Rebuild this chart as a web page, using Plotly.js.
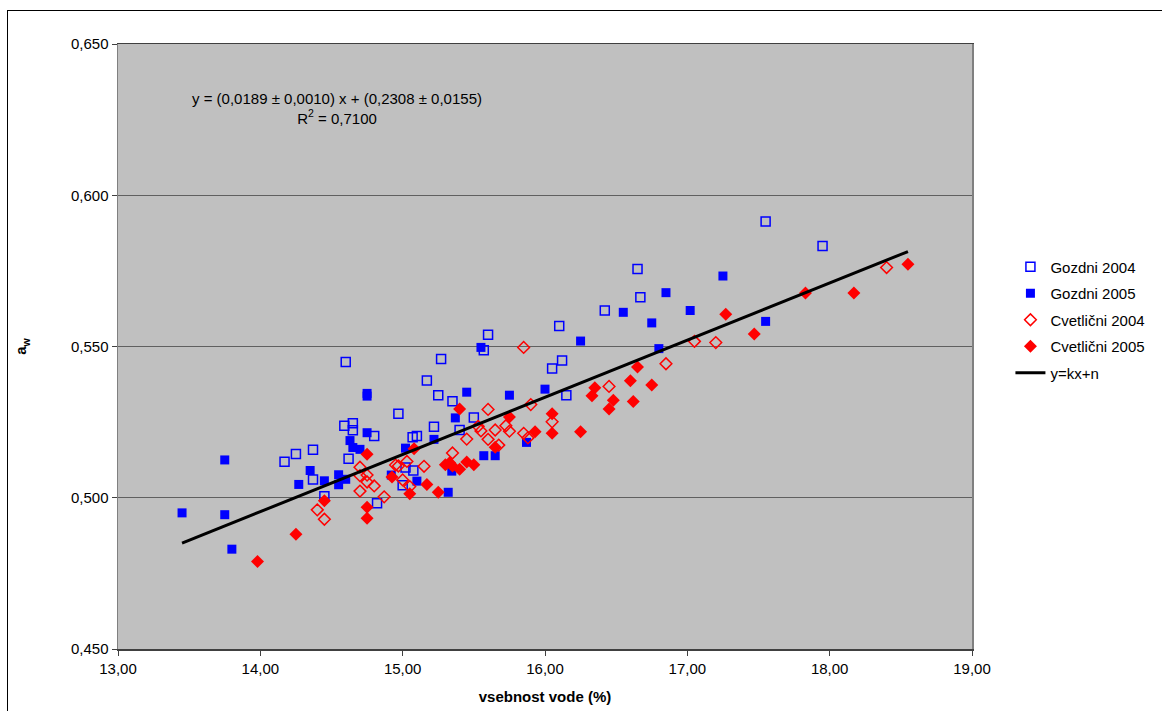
<!DOCTYPE html>
<html>
<head>
<meta charset="utf-8">
<script src="https://cdn.plot.ly/plotly-3.0.1.min.js"></script>
<style>
  html, body { margin: 0; padding: 0; background: #fff; overflow: hidden; }
  #chart { width: 1162px; height: 711px; position: absolute; left: 0; top: 0; }
  #frame { position: absolute; left: 7px; top: 10px; width: 1300px; height: 900px;
           border-left: 1px solid #000; border-top: 1px solid #000; pointer-events: none; }
</style>
</head>
<body>
<div id="chart"></div>
<div id="frame"></div>
<script>
// Gozdni 2004 (open squares)
const gozdni2004X = [14.17,14.25,14.37,14.37,14.45,14.60,14.59,14.65,14.65,14.62,14.80,14.82,14.97,15.00,15.02,15.07,15.10,15.075,15.17,15.22,15.25,15.27,15.35,15.40,15.50,15.57,15.60,16.05,16.10,16.12,16.15,16.42,16.65,16.67,17.55,17.95];
const gozdni2004Y = [0.5119,0.5145,0.5159,0.5060,0.5005,0.5449,0.5238,0.5246,0.5223,0.5129,0.5204,0.4982,0.5278,0.5041,0.5100,0.5200,0.5204,0.5090,0.5388,0.5235,0.5339,0.5459,0.5319,0.5224,0.5265,0.5488,0.5539,0.5427,0.5568,0.5454,0.5339,0.5619,0.5756,0.5663,0.5913,0.5832];

// Gozdni 2005 (filled squares)
const gozdni2005X = [13.45,13.75,13.75,13.80,14.27,14.35,14.45,14.55,14.55,14.60,14.63,14.65,14.70,14.75,14.75,14.75,14.92,15.02,15.10,15.22,15.32,15.345,15.37,15.45,15.55,15.57,15.65,15.75,15.87,16.00,16.25,16.55,16.75,16.80,16.85,17.02,17.25,17.55];
const gozdni2005Y = [0.4950,0.5125,0.4944,0.4830,0.5044,0.5090,0.5056,0.5076,0.5043,0.5061,0.5189,0.5166,0.5160,0.5345,0.5336,0.5215,0.5075,0.5164,0.5055,0.5193,0.5018,0.5088,0.5264,0.5349,0.5497,0.5139,0.5139,0.5339,0.5183,0.5359,0.5518,0.5613,0.5578,0.5493,0.5678,0.5619,0.5733,0.5583];

// Cvetlični 2004 (open diamonds)
const cvet2004X = [14.40,14.45,14.70,14.70,14.75,14.75,14.80,14.70,14.87,14.95,14.97,15.03,15.00,15.05,15.15,15.35,15.45,15.60,15.53,15.55,15.60,15.65,15.675,15.725,15.75,15.85,15.85,15.88,15.90,16.05,16.45,16.85,17.05,17.20,18.40];
const cvet2004Y = [0.4960,0.4929,0.5101,0.5073,0.5075,0.5052,0.5039,0.5022,0.5003,0.5108,0.5105,0.5120,0.5059,0.5037,0.5104,0.5148,0.5194,0.5292,0.5236,0.5221,0.5193,0.5224,0.5174,0.5238,0.5220,0.5213,0.5497,0.5198,0.5308,0.5251,0.5368,0.5443,0.5517,0.5513,0.5761];

// Cvetlični 2005 (filled diamonds)
const cvet2005X = [13.98,14.25,14.45,14.75,14.75,14.75,14.925,15.05,15.08,15.17,15.25,15.30,15.33,15.35,15.40,15.40,15.45,15.50,15.65,15.75,15.93,16.05,16.05,16.25,16.33,16.35,16.45,16.48,16.60,16.62,16.65,16.75,17.27,17.47,17.83,18.17,18.55];
const cvet2005Y = [0.4789,0.4879,0.4990,0.5144,0.4969,0.4932,0.5069,0.5013,0.5162,0.5044,0.5018,0.5109,0.5116,0.5105,0.5094,0.5293,0.5118,0.5109,0.5167,0.5267,0.5218,0.5278,0.5213,0.5218,0.5337,0.5364,0.5293,0.5322,0.5387,0.5318,0.5432,0.5373,0.5607,0.5541,0.5677,0.5677,0.5772];

// Fit line y = k x + n
const fitK = 0.0189;
const fitN = 0.2308;
const fitX = [13.45, 18.55];
const fitY = fitX.map(x => fitK * x + fitN);

const xTickVals = [13, 14, 15, 16, 17, 18, 19];
const yTickVals = [0.45, 0.50, 0.55, 0.60, 0.65];

const FONT = 'Liberation Sans, Arial, sans-serif';

const traces = [
  { name: 'Gozdni 2004', legendgroup: 'a', x: gozdni2004X, y: gozdni2004Y, type: 'scatter', mode: 'markers',
    marker: { symbol: 'square-open', size: 9, color: '#0000FF', line: { width: 1.5, color: '#0000FF' } } },
  { name: 'Gozdni 2005', legendgroup: 'b', x: gozdni2005X, y: gozdni2005Y, type: 'scatter', mode: 'markers',
    marker: { symbol: 'square', size: 9, color: '#0000FF' } },
  { name: 'Cvetlični 2004', legendgroup: 'c', x: cvet2004X, y: cvet2004Y, type: 'scatter', mode: 'markers',
    marker: { symbol: 'diamond-open', size: 9, color: '#FF0000', line: { width: 1.5, color: '#FF0000' } } },
  { name: 'Cvetlični 2005', legendgroup: 'd', x: cvet2005X, y: cvet2005Y, type: 'scatter', mode: 'markers',
    marker: { symbol: 'diamond', size: 10, color: '#FF0000' } },
  { name: 'y=kx+n', legendgroup: 'e', x: fitX, y: fitY, type: 'scatter', mode: 'lines',
    line: { color: '#000000', width: 3 } }
];

const layout = {
  width: 1162, height: 711,
  margin: { l: 118, r: 186, t: 44, b: 62, pad: 0 },
  paper_bgcolor: '#FFFFFF',
  plot_bgcolor: '#C0C0C0',
  separators: ',.',
  font: { family: FONT, size: 15, color: '#000' },
  showlegend: true,
  legend: {
    x: 1.045, y: (649 - 320) / 605, xanchor: 'left', yanchor: 'middle',
    bgcolor: 'rgba(0,0,0,0)', font: { family: FONT, size: 15, color: '#000' },
    tracegroupgap: 4, itemwidth: 30
  },
  xaxis: {
    range: [13, 19], tickvals: xTickVals, tickformat: '.2f',
    showgrid: false, zeroline: false,
    showline: true, linecolor: '#404040', linewidth: 1.5, mirror: true,
    ticks: 'outside', ticklen: 5, tickcolor: '#404040',
    tickfont: { family: FONT, size: 15 },
    title: { text: '<b>vsebnost vode (%)</b>', font: { family: FONT, size: 15 }, standoff: 16 }
  },
  yaxis: {
    range: [0.45, 0.65], tickvals: yTickVals, tickformat: '.3f',
    showgrid: true, gridcolor: '#606060', gridwidth: 1,
    zeroline: false,
    showline: true, linecolor: '#808080', linewidth: 1.5, mirror: true,
    ticks: 'outside', ticklen: 5, tickcolor: '#404040',
    tickfont: { family: FONT, size: 15 },
    title: { text: '<b>a<sub>w</sub></b>', font: { family: FONT, size: 15 }, standoff: 40 }
  },
  annotations: [
    { xref: 'paper', yref: 'paper', x: (338 - 118) / 858, y: (649 - 108) / 605,
      xanchor: 'center', yanchor: 'middle', showarrow: false, align: 'center',
      text: 'y = (0,0189 ± 0,0010) x + (0,2308 ± 0,0155)<br>R<sup>2</sup> = 0,7100',
      font: { family: FONT, size: 15, color: '#000' } }
  ]
};

Plotly.newPlot('chart', traces, layout, { displayModeBar: false, staticPlot: true });
</script>
</body>
</html>
